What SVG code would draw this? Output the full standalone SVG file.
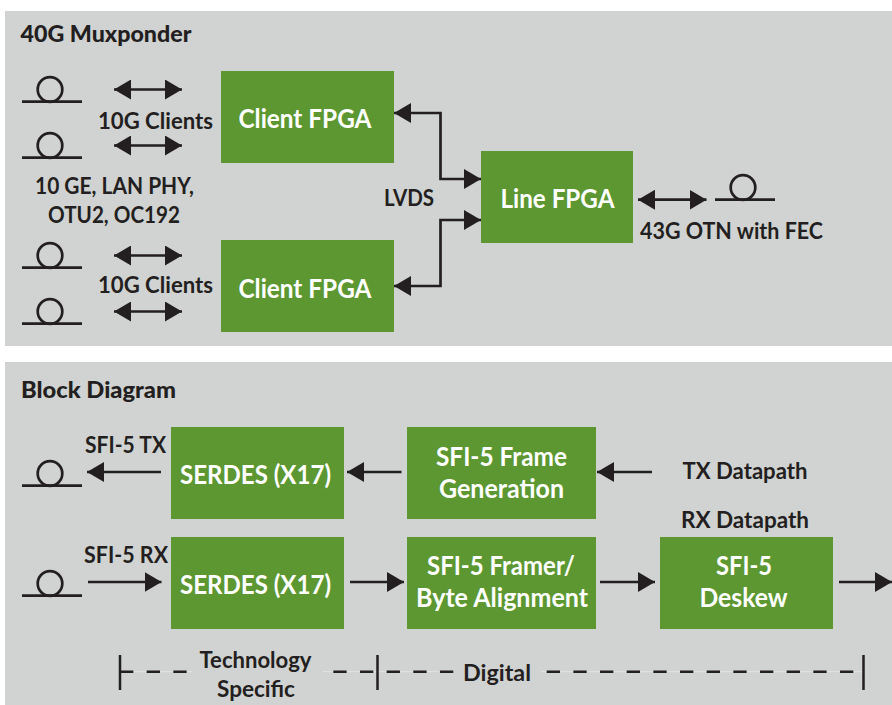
<svg xmlns="http://www.w3.org/2000/svg" xmlns:xlink="http://www.w3.org/1999/xlink" width="892" height="705" viewBox="0 0 892 705">
<style>
text{font-family:Lato,"Open Sans","Liberation Sans",sans-serif;font-weight:700;fill:#231f20;font-size:23px}
.w{fill:#fff;font-size:26.5px}
.h{font-weight:900;font-size:23px}
.box{fill:#5c9731}
.panel{fill:#d1d3d2}
.ln{fill:none;stroke:#231f20;stroke-width:2.7}
.hd{fill:#231f20}
.dash{fill:none;stroke:#231f20;stroke-width:2.5;stroke-dasharray:13.33 13.33}
.faint{stroke:#e2e4e3;stroke-width:1;fill:none}
.tick{stroke:#231f20;stroke-width:2.5;fill:none}
</style>
<defs>
<marker id="ah" markerUnits="userSpaceOnUse" markerWidth="18" markerHeight="20" refX="17" refY="10" orient="auto-start-reverse"><path class="hd" d="M0 0L17 10L0 20Z"/></marker>
<g id="fiber"><circle cx="50" cy="89.5" r="12.3" fill="none" stroke="#231f20" stroke-width="2.7"/><path d="M22 101.7H82" fill="none" stroke="#231f20" stroke-width="2.7"/></g>
</defs>
<rect id="panel-top" class="panel" x="5" y="11" width="887" height="335"/>
<rect id="panel-bottom" class="panel" x="5" y="362" width="887" height="343"/>
<g id="labels">
<text class="h" x="20.5" y="42" textLength="171" lengthAdjust="spacingAndGlyphs">40G Muxponder</text>
<text x="98" y="129" textLength="115" lengthAdjust="spacingAndGlyphs">10G Clients</text>
<text x="98" y="293" textLength="115" lengthAdjust="spacingAndGlyphs">10G Clients</text>
<text x="35" y="194" textLength="159" lengthAdjust="spacingAndGlyphs">10 GE, LAN PHY,</text>
<text x="48" y="223" textLength="132" lengthAdjust="spacingAndGlyphs">OTU2, OC192</text>
<text x="384" y="206" textLength="50" lengthAdjust="spacingAndGlyphs">LVDS</text>
<text x="640" y="239" textLength="183" lengthAdjust="spacingAndGlyphs">43G OTN with FEC</text>
<text class="h" x="21" y="398" textLength="155" lengthAdjust="spacingAndGlyphs">Block Diagram</text>
<text x="85" y="453" textLength="81" lengthAdjust="spacingAndGlyphs">SFI-5 TX</text>
<text x="84" y="563" textLength="84" lengthAdjust="spacingAndGlyphs">SFI-5 RX</text>
<text x="682.5" y="479" textLength="125" lengthAdjust="spacingAndGlyphs">TX Datapath</text>
<text x="681" y="528" textLength="128" lengthAdjust="spacingAndGlyphs">RX Datapath</text>
<text x="199.5" y="668" textLength="112" lengthAdjust="spacingAndGlyphs">Technology</text>
<text x="217" y="697" textLength="78" lengthAdjust="spacingAndGlyphs">Specific</text>
<text x="463" y="681" textLength="68" lengthAdjust="spacingAndGlyphs">Digital</text>
</g>
<g id="fibers">
<use xlink:href="#fiber" href="#fiber"/>
<use xlink:href="#fiber" href="#fiber" y="56"/>
<use xlink:href="#fiber" href="#fiber" y="166"/>
<use xlink:href="#fiber" href="#fiber" y="222"/>
<use xlink:href="#fiber" href="#fiber" x="693" y="98"/>
<use xlink:href="#fiber" href="#fiber" y="384"/>
<use xlink:href="#fiber" href="#fiber" y="494"/>
</g>
<g id="client-fpga-1"><rect class="box" x="221" y="71" width="173" height="92"/><text class="w" x="238.5" y="128" textLength="133" lengthAdjust="spacingAndGlyphs">Client FPGA</text></g>
<g id="client-fpga-2"><rect class="box" x="221" y="240" width="173" height="92"/><text class="w" x="238.5" y="298" textLength="133" lengthAdjust="spacingAndGlyphs">Client FPGA</text></g>
<g id="line-fpga"><rect class="box" x="481" y="151" width="152" height="92"/><text class="w" x="500.5" y="208" textLength="114" lengthAdjust="spacingAndGlyphs">Line FPGA</text></g>
<g id="serdes-tx"><rect class="box" x="171" y="427" width="173" height="92"/><text class="w" x="180" y="484" textLength="151" lengthAdjust="spacingAndGlyphs">SERDES (X17)</text></g>
<g id="serdes-rx"><rect class="box" x="171" y="537" width="173" height="92"/><text class="w" x="180" y="594" textLength="151" lengthAdjust="spacingAndGlyphs">SERDES (X17)</text></g>
<g id="frame-gen"><rect class="box" x="407" y="427" width="189" height="92"/><text class="w" x="436" y="466" textLength="131" lengthAdjust="spacingAndGlyphs">SFI-5 Frame</text><text class="w" x="439" y="498" textLength="125" lengthAdjust="spacingAndGlyphs">Generation</text></g>
<g id="framer"><rect class="box" x="407" y="537" width="189" height="92"/><text class="w" x="427" y="575" textLength="148" lengthAdjust="spacingAndGlyphs">SFI-5 Framer/</text><text class="w" x="416" y="607" textLength="172" lengthAdjust="spacingAndGlyphs">Byte Alignment</text></g>
<g id="deskew"><rect class="box" x="660" y="537" width="173" height="92"/><text class="w" x="716" y="575" textLength="56" lengthAdjust="spacingAndGlyphs">SFI-5</text><text class="w" x="699.5" y="607" textLength="88" lengthAdjust="spacingAndGlyphs">Deskew</text></g>
<g id="connectors">
<path class="ln" marker-start="url(#ah)" marker-end="url(#ah)" d="M114 89.5H182"/>
<path class="ln" marker-start="url(#ah)" marker-end="url(#ah)" d="M114 145.5H182"/>
<path class="ln" marker-start="url(#ah)" marker-end="url(#ah)" d="M114 255.5H182"/>
<path class="ln" marker-start="url(#ah)" marker-end="url(#ah)" d="M114 311.5H182"/>
<path class="ln" marker-start="url(#ah)" marker-end="url(#ah)" d="M394 113H440.5V179H481"/>
<path class="ln" marker-start="url(#ah)" marker-end="url(#ah)" d="M394 286H440.5V220H481"/>
<path class="ln" marker-start="url(#ah)" marker-end="url(#ah)" d="M638 199.7H706.5"/>
<path class="ln" marker-end="url(#ah)" d="M161 472H87"/>
<path class="ln" marker-end="url(#ah)" d="M88 582H161.5"/>
<path class="ln" marker-end="url(#ah)" d="M401.5 472H347"/>
<path class="ln" marker-end="url(#ah)" d="M350 582H404"/>
<path class="ln" marker-end="url(#ah)" d="M652 472H597"/>
<path class="ln" marker-end="url(#ah)" d="M600 582H655"/>
<path class="ln" marker-end="url(#ah)" d="M839 582H892"/>
<path class="faint" d="M120 671.7H192M323 671.7H377.5V671.7H452M541 671.7H863.5"/>
<path class="tick" d="M120 655V690M377.5 655V690M863.5 655V690"/>
<path class="dash" d="M120 671.7H187"/>
<path class="dash" d="M333.3 671.7H453.3"/>
<path class="dash" d="M546.7 671.7H853.3"/>
</g>
</svg>
